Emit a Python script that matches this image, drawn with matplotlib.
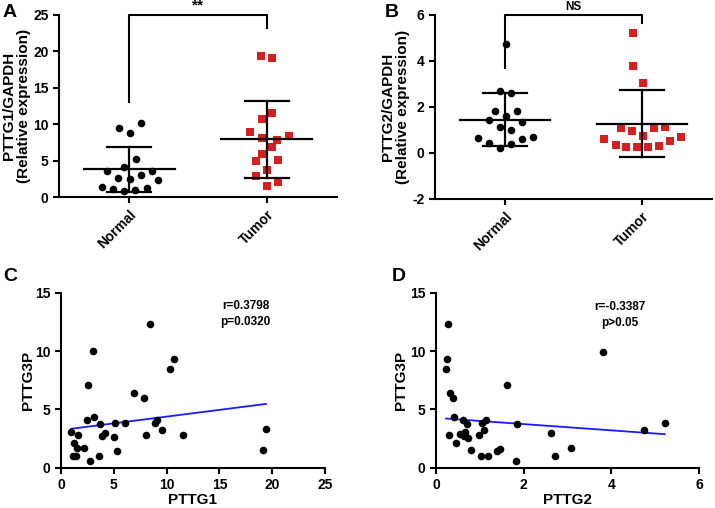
import numpy as np
import matplotlib
matplotlib.use('Agg')
import matplotlib.pyplot as plt

plt.rcParams['font.family'] = ['Liberation Sans', 'DejaVu Sans']
plt.rcParams['font.weight'] = 'bold'
plt.rcParams['axes.unicode_minus'] = False

groups = ['Normal', 'Tumor']
red = '#d42020'

# panel A: PTTG1/GAPDH
a_normal = [9.48, 8.79, 10.21, 5.22, 4.07, 3.53, 3.53, 2.61, 2.47, 3.07, 2.38, 1.37, 1.10, 0.87, 0.96, 1.24]
a_tumor = [19.41, 19.05, 11.54, 10.71, 8.97, 8.33, 8.06, 7.78, 6.91, 5.95, 4.95, 5.04, 3.71, 2.93, 2.06, 1.56]
a_normal_jit = [-0.075, 0.005, 0.085, 0.049, -0.036, -0.158, 0.165, -0.08, 0.005, 0.085, 0.206, -0.197, -0.117, -0.036, 0.044, 0.126]
a_tumor_jit = [-0.041, 0.039, 0.039, -0.036, -0.121, 0.16, -0.036, 0.075, 0.039, -0.036, -0.08, 0.078, 0.0, -0.08, 0.078, 0.0]

# panel B: PTTG2/GAPDH
b_normal = [4.76, 2.71, 2.61, 1.81, 1.81, 1.61, 1.44, 1.35, 1.15, 0.99, 0.65, 0.68, 0.62, 0.42, 0.39, 0.20]
b_tumor = [5.21, 3.80, 3.06, 1.07, 0.97, 1.07, 1.12, 0.75, 0.61, 0.71, 0.52, 0.35, 0.28, 0.26, 0.26, 0.30]
b_normal_jit = [0.007, -0.036, 0.043, -0.075, 0.085, 0.005, -0.116, 0.126, -0.036, 0.043, -0.196, 0.205, 0.126, -0.116, 0.043, -0.036]
b_tumor_jit = [-0.065, -0.065, 0.007, -0.157, -0.077, 0.085, 0.164, 0.007, -0.275, 0.285, 0.205, -0.193, -0.114, -0.034, 0.043, 0.123]

# panel C: PTTG1 vs PTTG3P
c_x = [0.95, 1.64, 1.23, 1.48, 2.18, 1.10, 1.42, 2.75, 2.49, 3.13, 2.52, 3.06, 3.69, 3.85, 4.17, 3.60,
       5.15, 5.05, 5.33, 6.06, 6.94, 7.89, 8.05, 8.43, 8.93, 9.06, 9.53, 10.32, 10.70, 11.58, 19.10, 19.41]
c_y = [3.06, 2.77, 2.14, 1.66, 1.66, 1.00, 1.00, 0.57, 4.11, 4.31, 7.11, 9.97, 3.71, 2.71, 3.00, 1.00,
       3.80, 2.60, 1.40, 3.80, 6.37, 5.94, 2.80, 12.31, 3.80, 4.09, 3.20, 8.43, 9.29, 2.83, 1.49, 3.29]

# panel D: PTTG2 vs PTTG3P
d_x = [0.28, 0.26, 0.23, 0.33, 0.38, 0.41, 0.30, 0.45, 0.62, 0.70, 0.55, 0.66, 0.65, 0.74, 0.80, 0.99,
       1.04, 1.14, 1.09, 1.02, 1.19, 1.40, 1.46, 1.63, 1.84, 1.82, 2.62, 2.72, 3.07, 3.81, 4.75, 5.22]
d_y = [12.31, 9.29, 8.43, 6.37, 5.94, 4.31, 2.83, 2.14, 4.11, 3.71, 2.86, 3.06, 2.71, 2.57, 1.49, 2.77,
       3.80, 4.09, 3.23, 1.00, 1.00, 1.40, 1.60, 7.09, 3.74, 0.57, 2.94, 1.00, 1.66, 9.94, 3.20, 3.80]


def style(ax):
    ax.spines['top'].set_visible(False)
    ax.spines['right'].set_visible(False)
    ax.spines['left'].set_linewidth(1.5)
    ax.spines['bottom'].set_linewidth(1.5)
    ax.tick_params(width=1.5, length=4, labelsize=10, direction='out')


def dot_plot(ax, normal, tumor, njit, tjit):
    ax.scatter(np.array(njit), normal, s=30, c='black', marker='o', zorder=3, linewidths=0)
    ax.scatter(1 + np.array(tjit), tumor, s=26, c=red, marker='s', zorder=3, linewidths=0)
    for i, vals in enumerate([normal, tumor]):
        m = np.mean(vals)
        sd = np.std(vals, ddof=1)
        ax.plot([i - 0.33, i + 0.33], [m, m], color='black', lw=1.6, zorder=4)
        ax.plot([i, i], [m - sd, m + sd], color='black', lw=1.6, zorder=4)
        ax.plot([i - 0.16, i + 0.16], [m + sd, m + sd], color='black', lw=1.6, zorder=4)
        ax.plot([i - 0.16, i + 0.16], [m - sd, m - sd], color='black', lw=1.6, zorder=4)
    ax.set_xlim(-0.51, 1.51)
    ax.set_xticks([0, 1])
    ax.set_xticklabels(groups, rotation=45, ha='right', rotation_mode='anchor', fontsize=11)
    style(ax)


fig = plt.figure(figsize=(7.15, 5.08), dpi=100)

axA = fig.add_axes([0.0825, 0.6122, 0.389, 0.3583])
dot_plot(axA, a_normal, a_tumor, a_normal_jit, a_tumor_jit)
axA.set_ylim(0, 25)
axA.set_yticks([0, 5, 10, 15, 20, 25])
axA.set_ylabel('PTTG1/GAPDH\n(Relative expression)', fontsize=11, fontweight='bold', linespacing=1.1)
axA.yaxis.set_label_coords(-0.1, 0.5)
axA.plot([0, 0, 1, 1], [13.0, 25, 25, 23.2], color='black', lw=1.5, clip_on=False)
axA.text(0.5, 25.3, '**', ha='center', va='bottom', fontsize=11, fontweight='bold')

axB = fig.add_axes([0.6084, 0.6083, 0.3874, 0.3622])
dot_plot(axB, b_normal, b_tumor, b_normal_jit, b_tumor_jit)
axB.set_ylim(-2, 6)
axB.set_yticks([-2, 0, 2, 4, 6])
axB.set_ylabel('PTTG2/GAPDH\n(Relative expression)', fontsize=11, fontweight='bold', linespacing=1.1)
axB.yaxis.set_label_coords(-0.09, 0.5)
axB.plot([0, 0, 1, 1], [3.69, 6, 6, 5.64], color='black', lw=1.5, clip_on=False)
axB.text(0.5, 6.08, 'NS', ha='center', va='bottom', fontsize=8.5, fontweight='bold')


def corr_plot(ax, x, y, xlim, xticks, xlabel, note, note_xy, ylab_x):
    ax.scatter(x, y, s=30, c='black', zorder=3, linewidths=0)
    k, b = np.polyfit(x, y, 1)
    xs = np.array([min(x), max(x)])
    ax.plot(xs, k * xs + b, color='#1a1aff', lw=1.3, zorder=2)
    ax.set_xlim(*xlim)
    ax.set_xticks(xticks)
    ax.set_ylim(0, 15)
    ax.set_yticks([0, 5, 10, 15])
    ax.set_xlabel(xlabel, fontsize=11, fontweight='bold')
    ax.xaxis.set_label_coords(0.5, -0.145)
    ax.set_ylabel('PTTG3P', fontsize=11, fontweight='bold')
    ax.yaxis.set_label_coords(ylab_x, 0.5)
    ax.text(note_xy[0], note_xy[1], note, ha='center', va='center', fontsize=8.5,
            fontweight='bold', linespacing=1.4)
    style(ax)


axC = fig.add_axes([0.0853, 0.0793, 0.3692, 0.3445])
corr_plot(axC, c_x, c_y, (0, 25), [0, 5, 10, 15, 20, 25], 'PTTG1', 'r=0.3798\np=0.0320', (17.5, 13.2), -0.098)

axD = fig.add_axes([0.6098, 0.0793, 0.3678, 0.3445])
corr_plot(axD, d_x, d_y, (0, 6), [0, 2, 4, 6], 'PTTG2', 'r=-0.3387\np>0.05', (4.19, 13.1), -0.106)

for lab, x, y in [('A', 0.004, 0.975), ('B', 0.538, 0.975), ('C', 0.004, 0.455), ('D', 0.548, 0.455)]:
    fig.text(x, y, lab, fontsize=14, fontweight='bold', ha='left', va='center')

fig.savefig('out.png', dpi=100)
